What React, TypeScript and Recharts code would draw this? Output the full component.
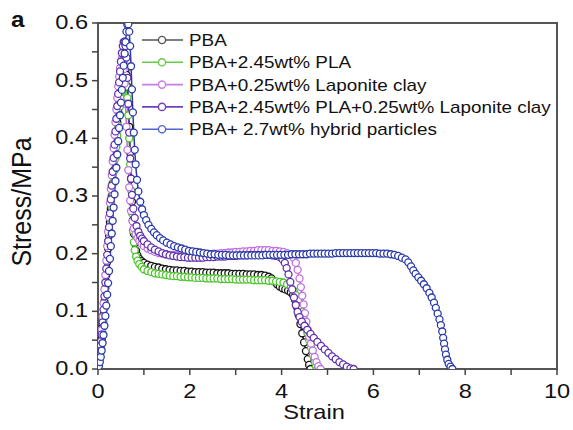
import { LineChart, Line, XAxis, YAxis, Legend, ReferenceArea } from 'recharts';

const xMajorTicks = [0, 2, 4, 6, 8, 10];
const xMinorTicks = [1, 3, 5, 7, 9];
const yMajorTicks = [0, 0.1, 0.2, 0.3, 0.4, 0.5, 0.6];
const yMinorTicks = [0.05, 0.15, 0.25, 0.35, 0.45, 0.55];

const seriesNames = [
  'PBA',
  'PBA+2.45wt% PLA',
  'PBA+0.25wt% Laponite clay',
  'PBA+2.45wt% PLA+0.25wt% Laponite clay',
  'PBA+ 2.7wt% hybrid particles',
];

// [strain, stress in MPa]
const pba: [number, number][] = [
  [0, 0], [0.02, 0.008], [0.04, 0.02], [0.06, 0.035], [0.08, 0.052], [0.1, 0.072], [0.12, 0.094],
  [0.14, 0.117], [0.16, 0.14], [0.18, 0.163], [0.2, 0.186], [0.22, 0.209], [0.24, 0.232], [0.26, 0.255],
  [0.28, 0.278], [0.3, 0.3], [0.32, 0.322], [0.34, 0.344], [0.36, 0.366], [0.38, 0.387], [0.4, 0.408],
  [0.42, 0.428], [0.44, 0.447], [0.46, 0.465], [0.48, 0.481], [0.5, 0.495], [0.52, 0.506], [0.54, 0.514],
  [0.56, 0.519], [0.58, 0.521], [0.6, 0.519], [0.62, 0.51], [0.64, 0.49], [0.66, 0.46], [0.68, 0.42],
  [0.7, 0.375], [0.72, 0.33], [0.74, 0.29], [0.76, 0.258], [0.78, 0.235], [0.8, 0.218], [0.83, 0.205],
  [0.86, 0.197], [0.9, 0.191], [0.95, 0.187], [1.0, 0.184], [1.08, 0.181], [1.16, 0.179], [1.24, 0.177],
  [1.32, 0.176], [1.4, 0.174], [1.48, 0.173], [1.56, 0.172], [1.64, 0.171], [1.72, 0.171], [1.8, 0.17],
  [1.88, 0.17], [1.96, 0.169], [2.04, 0.169], [2.12, 0.168], [2.2, 0.168], [2.28, 0.168], [2.36, 0.167],
  [2.44, 0.167], [2.52, 0.167], [2.6, 0.166], [2.68, 0.166], [2.76, 0.166], [2.84, 0.166], [2.92, 0.165],
  [3.0, 0.165], [3.08, 0.165], [3.16, 0.165], [3.24, 0.164], [3.32, 0.164], [3.4, 0.164], [3.48, 0.163],
  [3.56, 0.163], [3.64, 0.162], [3.72, 0.16], [3.78, 0.157], [3.84, 0.152], [3.9, 0.147], [3.96, 0.143],
  [4.02, 0.14], [4.08, 0.138], [4.14, 0.136], [4.2, 0.133], [4.25, 0.128], [4.29, 0.12], [4.33, 0.108],
  [4.37, 0.094], [4.41, 0.078], [4.45, 0.062], [4.49, 0.046], [4.53, 0.031], [4.57, 0.017], [4.6, 0.007],
  [4.63, 0],
];

const pbaPla: [number, number][] = [
  [0, 0], [0.02, 0.006], [0.04, 0.016], [0.06, 0.029], [0.08, 0.045], [0.1, 0.063], [0.12, 0.083],
  [0.14, 0.104], [0.16, 0.126], [0.18, 0.148], [0.2, 0.17], [0.22, 0.192], [0.24, 0.214], [0.26, 0.236],
  [0.28, 0.258], [0.3, 0.28], [0.32, 0.302], [0.34, 0.323], [0.36, 0.344], [0.38, 0.365], [0.4, 0.385],
  [0.42, 0.404], [0.44, 0.422], [0.46, 0.439], [0.48, 0.455], [0.5, 0.469], [0.52, 0.481], [0.54, 0.49],
  [0.56, 0.496], [0.58, 0.499], [0.6, 0.498], [0.62, 0.49], [0.64, 0.47], [0.66, 0.44], [0.68, 0.4],
  [0.7, 0.355], [0.72, 0.31], [0.74, 0.27], [0.76, 0.24], [0.78, 0.22], [0.8, 0.206], [0.83, 0.195],
  [0.86, 0.188], [0.9, 0.182], [0.95, 0.177], [1.0, 0.173], [1.08, 0.17], [1.16, 0.168], [1.24, 0.166],
  [1.32, 0.165], [1.4, 0.164], [1.48, 0.163], [1.56, 0.162], [1.64, 0.161], [1.72, 0.161], [1.8, 0.16],
  [1.88, 0.16], [1.96, 0.159], [2.04, 0.159], [2.12, 0.158], [2.2, 0.158], [2.28, 0.158], [2.36, 0.157],
  [2.44, 0.157], [2.52, 0.157], [2.6, 0.157], [2.68, 0.156], [2.76, 0.156], [2.84, 0.156], [2.92, 0.156],
  [3.0, 0.155], [3.08, 0.155], [3.16, 0.155], [3.24, 0.155], [3.32, 0.155], [3.4, 0.154], [3.48, 0.154],
  [3.56, 0.154], [3.64, 0.154], [3.72, 0.153], [3.8, 0.153], [3.88, 0.152], [3.96, 0.151], [4.04, 0.15],
  [4.12, 0.147], [4.2, 0.142], [4.26, 0.136], [4.31, 0.128], [4.36, 0.119], [4.4, 0.109], [4.44, 0.099],
  [4.48, 0.088], [4.52, 0.076], [4.56, 0.063], [4.6, 0.05], [4.64, 0.037], [4.68, 0.024], [4.72, 0.012],
  [4.75, 0.004], [4.78, 0],
];

const pbaClay: [number, number][] = [
  [0, 0], [0.02, 0.012], [0.04, 0.028], [0.06, 0.047], [0.08, 0.068], [0.1, 0.09], [0.12, 0.114],
  [0.14, 0.138], [0.16, 0.163], [0.18, 0.188], [0.2, 0.213], [0.22, 0.238], [0.24, 0.263], [0.26, 0.288],
  [0.28, 0.312], [0.3, 0.336], [0.32, 0.36], [0.34, 0.383], [0.36, 0.406], [0.38, 0.428], [0.4, 0.45],
  [0.42, 0.47], [0.44, 0.49], [0.46, 0.507], [0.48, 0.522], [0.5, 0.533], [0.52, 0.538], [0.54, 0.535],
  [0.56, 0.52], [0.58, 0.495], [0.6, 0.46], [0.62, 0.42], [0.64, 0.38], [0.66, 0.345], [0.68, 0.315],
  [0.7, 0.292], [0.72, 0.274], [0.75, 0.256], [0.78, 0.244], [0.82, 0.234], [0.86, 0.227], [0.9, 0.222],
  [0.95, 0.217], [1.0, 0.213], [1.08, 0.209], [1.16, 0.206], [1.24, 0.203], [1.32, 0.201], [1.4, 0.2],
  [1.48, 0.199], [1.56, 0.198], [1.64, 0.198], [1.72, 0.197], [1.8, 0.197], [1.88, 0.197], [1.96, 0.197],
  [2.04, 0.197], [2.12, 0.198], [2.2, 0.198], [2.28, 0.198], [2.36, 0.199], [2.44, 0.199], [2.52, 0.2],
  [2.6, 0.2], [2.68, 0.201], [2.76, 0.201], [2.84, 0.202], [2.92, 0.202], [3.0, 0.203], [3.08, 0.203],
  [3.16, 0.204], [3.24, 0.204], [3.32, 0.205], [3.4, 0.205], [3.48, 0.206], [3.56, 0.206], [3.64, 0.206],
  [3.72, 0.206], [3.8, 0.205], [3.88, 0.205], [3.96, 0.204], [4.04, 0.203], [4.12, 0.201], [4.2, 0.198],
  [4.26, 0.193], [4.31, 0.184], [4.35, 0.172], [4.39, 0.157], [4.42, 0.142], [4.45, 0.127], [4.48, 0.112],
  [4.51, 0.097], [4.54, 0.082], [4.57, 0.068], [4.6, 0.056], [4.64, 0.044], [4.68, 0.032], [4.72, 0.021],
  [4.76, 0.012], [4.8, 0.005], [4.85, 0],
];

const pbaPlaClay: [number, number][] = [
  [0, 0], [0.02, 0.01], [0.04, 0.024], [0.06, 0.041], [0.08, 0.06], [0.1, 0.081], [0.12, 0.103],
  [0.14, 0.126], [0.16, 0.15], [0.18, 0.174], [0.2, 0.198], [0.22, 0.222], [0.24, 0.246], [0.26, 0.27],
  [0.28, 0.294], [0.3, 0.318], [0.32, 0.342], [0.34, 0.366], [0.36, 0.389], [0.38, 0.412], [0.4, 0.434],
  [0.42, 0.456], [0.44, 0.477], [0.46, 0.497], [0.48, 0.516], [0.5, 0.533], [0.52, 0.548], [0.54, 0.56],
  [0.56, 0.567], [0.58, 0.568], [0.6, 0.56], [0.62, 0.54], [0.64, 0.505], [0.66, 0.46], [0.68, 0.41],
  [0.7, 0.365], [0.72, 0.33], [0.74, 0.302], [0.77, 0.278], [0.8, 0.262], [0.84, 0.248], [0.88, 0.238],
  [0.92, 0.231], [0.96, 0.226], [1.0, 0.222], [1.08, 0.216], [1.16, 0.211], [1.24, 0.207], [1.32, 0.204],
  [1.4, 0.201], [1.48, 0.199], [1.56, 0.197], [1.64, 0.196], [1.72, 0.195], [1.8, 0.194], [1.88, 0.194],
  [1.96, 0.193], [2.04, 0.193], [2.12, 0.193], [2.2, 0.193], [2.28, 0.193], [2.36, 0.194], [2.44, 0.194],
  [2.52, 0.194], [2.6, 0.195], [2.68, 0.195], [2.76, 0.195], [2.84, 0.196], [2.92, 0.196], [3.0, 0.196],
  [3.08, 0.197], [3.16, 0.197], [3.24, 0.197], [3.32, 0.198], [3.4, 0.198], [3.48, 0.198], [3.56, 0.198],
  [3.64, 0.198], [3.72, 0.198], [3.8, 0.197], [3.88, 0.196], [3.96, 0.194], [4.02, 0.19], [4.07, 0.184],
  [4.11, 0.175], [4.15, 0.164], [4.19, 0.151], [4.23, 0.138], [4.27, 0.124], [4.31, 0.111], [4.35, 0.099],
  [4.39, 0.09], [4.44, 0.082], [4.5, 0.075], [4.56, 0.068], [4.63, 0.061], [4.7, 0.054], [4.78, 0.047],
  [4.86, 0.04], [4.94, 0.034], [5.02, 0.028], [5.1, 0.022], [5.18, 0.017], [5.26, 0.012], [5.34, 0.008],
  [5.42, 0.004], [5.5, 0.001], [5.57, 0],
];

const pbaHybrid: [number, number][] = [
  [0, 0], [0.02, 0.005], [0.04, 0.012], [0.06, 0.021], [0.08, 0.032], [0.1, 0.045], [0.12, 0.059],
  [0.14, 0.075], [0.16, 0.092], [0.18, 0.11], [0.2, 0.129], [0.22, 0.149], [0.24, 0.17], [0.26, 0.191],
  [0.28, 0.213], [0.3, 0.235], [0.32, 0.257], [0.34, 0.28], [0.36, 0.303], [0.38, 0.326], [0.4, 0.349],
  [0.42, 0.372], [0.44, 0.395], [0.46, 0.418], [0.48, 0.44], [0.5, 0.462], [0.52, 0.484], [0.54, 0.505],
  [0.56, 0.526], [0.58, 0.547], [0.6, 0.567], [0.62, 0.585], [0.64, 0.597], [0.66, 0.598], [0.68, 0.585],
  [0.7, 0.56], [0.72, 0.525], [0.74, 0.485], [0.76, 0.445], [0.78, 0.41], [0.8, 0.38], [0.82, 0.355],
  [0.85, 0.328], [0.88, 0.308], [0.92, 0.29], [0.96, 0.277], [1.0, 0.267], [1.05, 0.258], [1.1, 0.25],
  [1.16, 0.243], [1.22, 0.237], [1.28, 0.232], [1.35, 0.227], [1.42, 0.223], [1.5, 0.219], [1.58, 0.216],
  [1.66, 0.213], [1.74, 0.211], [1.82, 0.209], [1.9, 0.207], [1.98, 0.205], [2.06, 0.204], [2.14, 0.203],
  [2.22, 0.202], [2.3, 0.201], [2.38, 0.2], [2.46, 0.199], [2.54, 0.199], [2.62, 0.198], [2.7, 0.198],
  [2.78, 0.198], [2.86, 0.197], [2.94, 0.197], [3.02, 0.197], [3.1, 0.197], [3.18, 0.197], [3.26, 0.197],
  [3.34, 0.197], [3.42, 0.197], [3.5, 0.197], [3.58, 0.197], [3.66, 0.198], [3.74, 0.198], [3.82, 0.198],
  [3.9, 0.198], [3.98, 0.198], [4.06, 0.198], [4.14, 0.198], [4.22, 0.199], [4.3, 0.199], [4.38, 0.199],
  [4.46, 0.199], [4.54, 0.199], [4.62, 0.2], [4.7, 0.2], [4.78, 0.2], [4.86, 0.2], [4.94, 0.2],
  [5.02, 0.2], [5.1, 0.2], [5.18, 0.201], [5.26, 0.201], [5.34, 0.201], [5.42, 0.201], [5.5, 0.201],
  [5.58, 0.201], [5.66, 0.201], [5.74, 0.201], [5.82, 0.201], [5.9, 0.201], [5.98, 0.201], [6.06, 0.201],
  [6.14, 0.2], [6.22, 0.2], [6.3, 0.2], [6.38, 0.199], [6.46, 0.198], [6.54, 0.196], [6.62, 0.193],
  [6.7, 0.19], [6.76, 0.185], [6.82, 0.178], [6.87, 0.171], [6.92, 0.165], [6.98, 0.159], [7.04, 0.153],
  [7.1, 0.147], [7.16, 0.14], [7.22, 0.132], [7.27, 0.124], [7.32, 0.115], [7.36, 0.106], [7.4, 0.096],
  [7.44, 0.086], [7.47, 0.076], [7.5, 0.065], [7.52, 0.054], [7.54, 0.044], [7.56, 0.034], [7.58, 0.025],
  [7.61, 0.016], [7.64, 0.009], [7.68, 0.004], [7.72, 0],
];

const toPoints = (arr: [number, number][]) => arr.map(([x, y]) => ({ x, y }));

const series = [
  { name: seriesNames[0], data: toPoints(pba), color: '#151515', legendColor: '#555555' },
  { name: seriesNames[1], data: toPoints(pbaPla), color: '#4cc42c', legendColor: '#66cc44' },
  { name: seriesNames[2], data: toPoints(pbaClay), color: '#c070e0', legendColor: '#c880e0' },
  { name: seriesNames[3], data: toPoints(pbaPlaClay), color: '#6030b0', legendColor: '#7040c0' },
  { name: seriesNames[4], data: toPoints(pbaHybrid), color: '#2a3aaa', legendColor: '#5066cc' },
];

const FONT = '"Liberation Sans", Arial, sans-serif';
const AXIS = '#555555';
const STRETCH = 1.18;
const TICK_LEN = 6;

// x, y arrive at the outer end of the tick line
const XTick = ({ x, y, payload }: any) => {
  if (!xMajorTicks.includes(payload.value)) return <g />;
  return (
    <text
      transform={`translate(${x},${y + 23}) scale(${STRETCH},1)`}
      textAnchor="middle"
      fontSize={20}
      fontFamily={FONT}
      fill="#111"
    >
      {payload.value}
    </text>
  );
};

const YTick = ({ x, y, payload }: any) => {
  if (!yMajorTicks.some((t) => Math.abs(t - payload.value) < 1e-6)) return <g />;
  return (
    <text
      transform={`translate(${x - 4},${y + 6}) scale(${STRETCH},1)`}
      textAnchor="end"
      fontSize={20}
      fontFamily={FONT}
      fill="#111"
    >
      {payload.value.toFixed(1)}
    </text>
  );
};

const renderLegend = () => (
  <svg width={430} height={112} style={{ display: 'block' }}>
    {series.map((s, i) => (
      <g key={s.name} transform={`translate(0,${12 + i * 22.3})`}>
        <line x1={2} x2={43} y1={0} y2={0} stroke={s.legendColor} strokeWidth={1.6} />
        <circle cx={22} cy={0} r={3.6} fill="#fff" stroke={s.legendColor} strokeWidth={1.4} />
        <text
          transform={`translate(49,6) scale(${STRETCH},1)`}
          fontSize={16}
          fontFamily={FONT}
          fill="#111"
        >
          {s.name}
        </text>
      </g>
    ))}
  </svg>
);

export default function App() {
  return (
    <div style={{ position: 'absolute', left: 0, top: 0, background: '#fff' }}>
      <LineChart width={573} height={430} margin={{ top: 23, right: 16, bottom: 21, left: 0 }}>
        <XAxis
          dataKey="x"
          type="number"
          domain={[0, 10]}
          allowDataOverflow
          ticks={[...xMajorTicks, ...xMinorTicks].sort((a, b) => a - b)}
          interval={0}
          height={40}
          tickSize={TICK_LEN}
          tickMargin={0}
          tickLine={{ stroke: '#444', strokeWidth: 1.5 }}
          tick={<XTick />}
          axisLine={{ stroke: AXIS, strokeWidth: 2 }}
          label={{
            content: () => (
              <text
                transform={`translate(314,419) scale(${STRETCH},1)`}
                textAnchor="middle"
                fontSize={20}
                fontFamily={FONT}
                fill="#111"
              >
                Strain
              </text>
            ),
          }}
        />
        <YAxis
          type="number"
          domain={[0, 0.6]}
          allowDataOverflow
          ticks={[...yMajorTicks, ...yMinorTicks].sort((a, b) => a - b)}
          interval={0}
          width={98}
          tickSize={TICK_LEN}
          tickMargin={0}
          tickLine={{ stroke: '#444', strokeWidth: 1.5 }}
          tick={<YTick />}
          axisLine={{ stroke: AXIS, strokeWidth: 2 }}
          label={{
            content: () => (
              <g>
                <text
                  transform="translate(31,202) scale(1.1,1) rotate(-90)"
                  textAnchor="middle"
                  fontSize={25}
                  fontFamily={FONT}
                  fill="#111"
                >
                  Stress/MPa
                </text>
                <text
                  transform="translate(11,27) scale(1.1,1)"
                  fontSize={22}
                  fontWeight="bold"
                  fontFamily={FONT}
                  fill="#111"
                >
                  a
                </text>
              </g>
            ),
          }}
        />
        <ReferenceArea
          x1={0}
          x2={10}
          y1={0}
          y2={0.6}
          fill="none"
          fillOpacity={0}
          stroke={AXIS}
          strokeWidth={2}
        />
        <Legend
          layout="horizontal"
          verticalAlign="middle"
          align="center"
          wrapperStyle={{ left: 140, top: 28, width: 430, height: 112 }}
          content={renderLegend}
        />
        {series.map((s) => (
          <Line
            key={s.name}
            name={s.name}
            data={s.data}
            dataKey="y"
            type="linear"
            stroke={s.color}
            strokeWidth={1.5}
            dot={{ r: 3.5, stroke: s.color, strokeWidth: 1.3, fill: '#fff' }}
            activeDot={false}
            isAnimationActive={false}
          />
        ))}
      </LineChart>
    </div>
  );
}
